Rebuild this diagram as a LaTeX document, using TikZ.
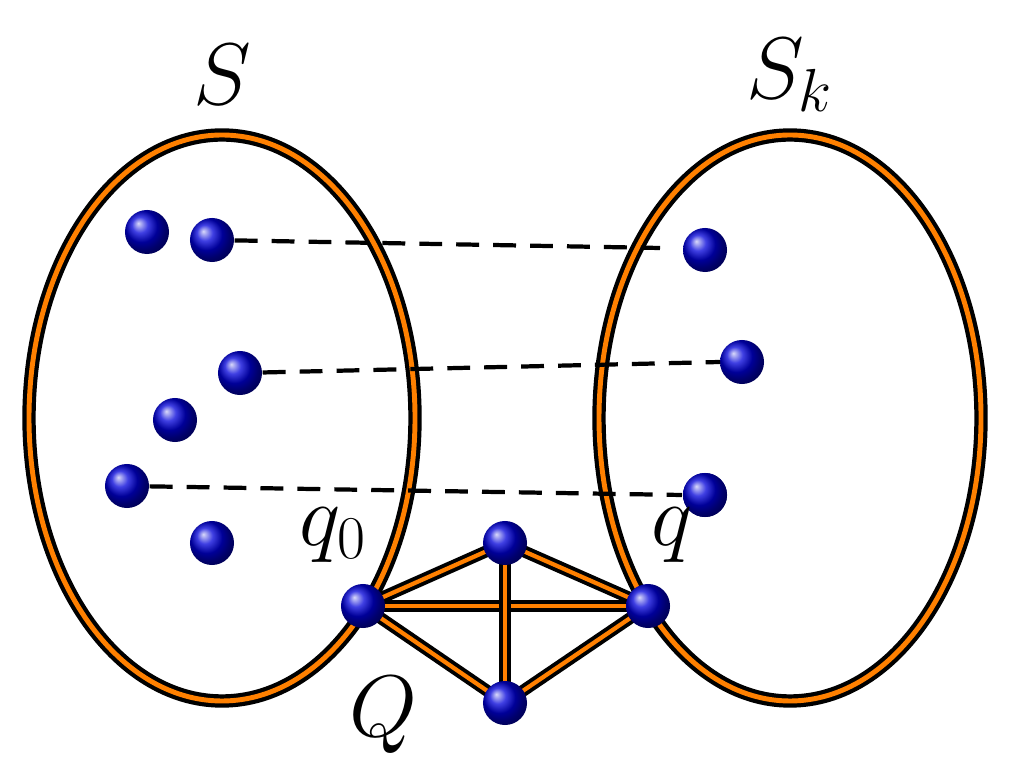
\documentclass[tikz,border=0pt]{standalone}
\begin{document}
\begin{tikzpicture}[x=0.01cm,y=-0.01cm,
  ring/.style={draw=black,double=orange,line width=1.2pt,double distance=1.4pt},
  edge/.style={draw=black,double=orange,line width=1.1pt,double distance=1.2pt},
  dashln/.style={draw=black,line width=1.2pt,dash pattern=on 6.5pt off 4pt},
  ball/.style={circle,minimum size=0.44cm,inner sep=0pt,ball color=blue!85!black},
  lab/.style={font=\fontsize{27}{30}\selectfont}]
\useasboundingbox (0,0) rectangle (1010,765);
\draw[ring] (222,418) ellipse [x radius=193, y radius=283];
\draw[ring] (790,418) ellipse [x radius=191, y radius=283];
\coordinate (d1) at (660,248);
\coordinate (d2) at (720,362);
\coordinate (d3) at (682,495);
\node[ball] (a1) at (147,232) {};
\node[ball] (a2) at (212,240) {};
\node[ball] (a3) at (240,373) {};
\node[ball] (a4) at (175,420) {};
\node[ball] (a5) at (127,486) {};
\node[ball] (a6) at (212,543) {};
\node[ball] (b1) at (705,250) {};
\node[ball] (b2) at (742,362) {};
\node[ball] (b3) at (705,495) {};
\draw[dashln] (a2) -- (d1);
\draw[dashln] (a3) -- (d2);
\draw[dashln] (a5) -- (d3);
\coordinate (q0) at (363,606);
\coordinate (t) at (505,543);
\coordinate (bt) at (505,703);
\coordinate (q) at (648,606);
\draw[edge] (q0) -- (t);
\draw[edge] (q0) -- (q);
\draw[edge] (q0) -- (bt);
\draw[edge] (t) -- (bt);
\draw[edge] (t) -- (q);
\draw[edge] (bt) -- (q);
\node[ball] (n1) at (q0) {};
\node[ball] (n2) at (t) {};
\node[ball] (n3) at (bt) {};
\node[ball] (n4) at (q) {};
\node[ball] (n5) at (b3) {};
\node[lab] (lS) at (222,75) {$S$};
\node[lab] (lSk) at (790,75) {$S_k$};
\node[lab] (lq0) at (333,535) {$q_0$};
\node[lab] (lq) at (672,535) {$q$};
\node[lab] (lQ) at (383,715) {$Q$};
\end{tikzpicture}
\end{document}
